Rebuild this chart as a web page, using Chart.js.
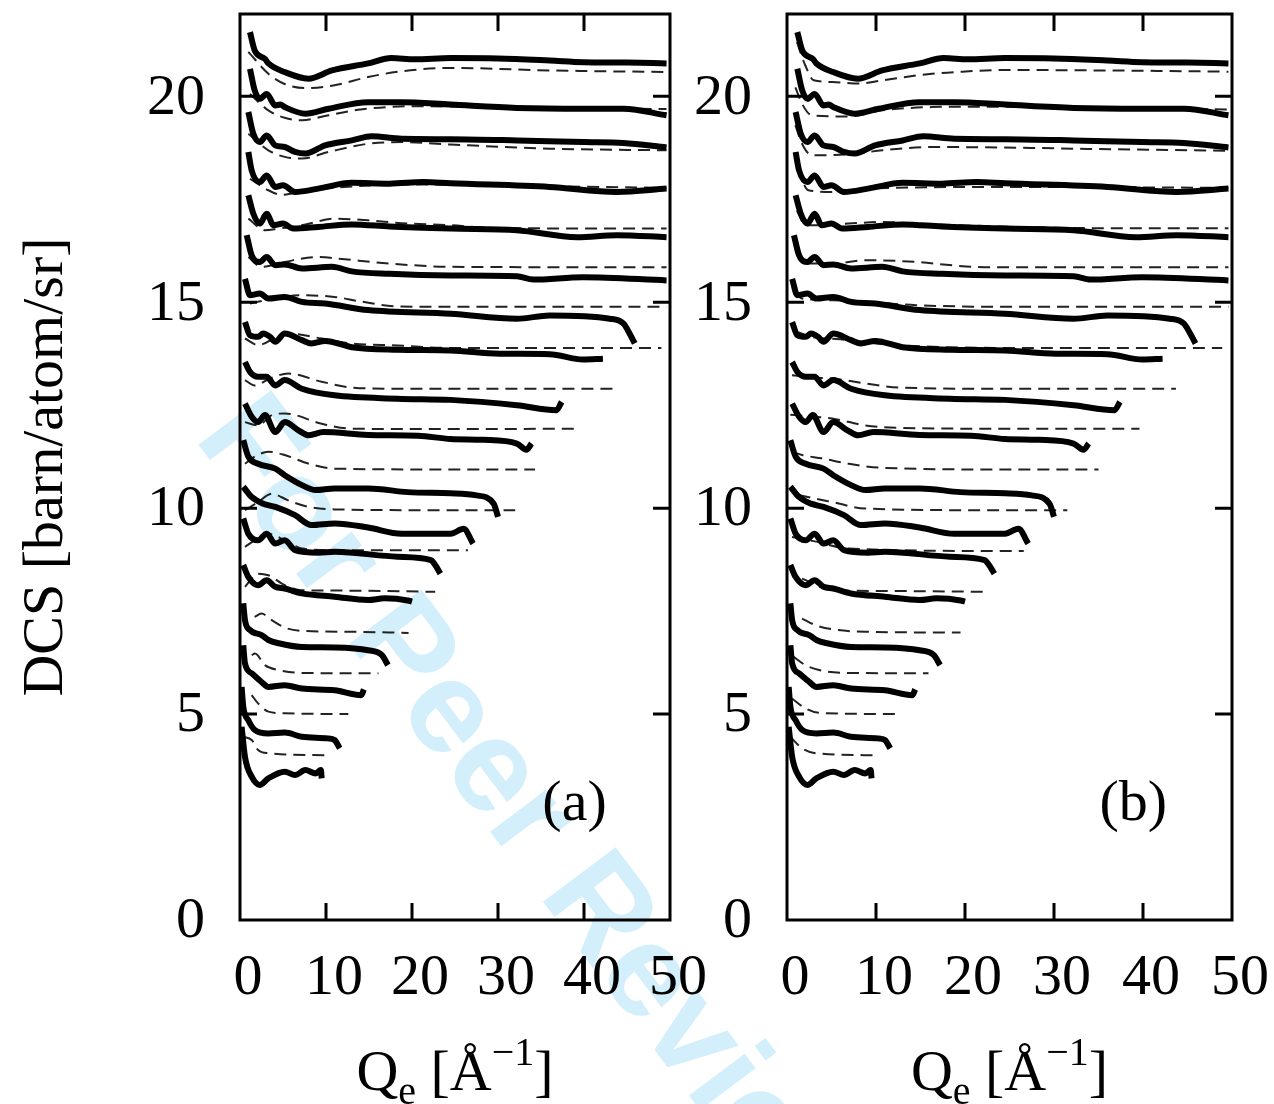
<!DOCTYPE html>
<html>
<head>
<meta charset="utf-8">
<script src="https://cdn.jsdelivr.net/npm/chart.js@4"></script>
<style>
html, body { margin: 0; padding: 0; background: #fff; overflow: hidden; }
#wm {
    position: absolute; left: 290px; top: 365px;
    font: bold 132px 'Liberation Sans', sans-serif; color: #d2effb;
    white-space: nowrap; transform-origin: 0 0; transform: rotate(53deg);
}
canvas { position: absolute; left: 0; top: 0; }
</style>
</head>
<body>
<div id="wm">For Peer Review</div>
<canvas id="chartA" width="1274" height="1104"></canvas>
<canvas id="chartB" width="1274" height="1104"></canvas>
<script>
xTicks = [0, 10, 20, 30, 40, 50];
yTicks = [0, 5, 10, 15, 20];

// measured DCS (thick curves), same in both panels
measured = [
    [[1.16,21.56],[1.74,21.1],[2.9,20.91],[3.3,20.8],[5.2,20.59],[7.95,20.43],[10.7,20.63],[14.9,20.8],[17.6,20.93],[20.3,20.9],[24.5,20.93],[30,20.92],[36,20.87],[39.9,20.83],[45,20.82],[49.6,20.8]],
    [[1.16,20.67],[1.7,20.15],[2.3,19.94],[3.1,20.06],[4.1,19.78],[4.7,19.8],[5.2,19.74],[7.6,19.58],[10.3,19.7],[14.9,19.86],[18.8,19.86],[24.5,19.8],[32.2,19.72],[39.9,19.7],[44.6,19.7],[49.6,19.54]],
    [[0.97,19.62],[1.55,19.09],[2.3,18.89],[3.1,19.05],[4.1,18.81],[5.2,18.77],[6.4,18.65],[7.6,18.61],[9.9,18.81],[13,18.93],[15.3,19.03],[18.8,18.97],[24.5,18.96],[32.2,18.93],[39.9,18.89],[44.6,18.87],[49.6,18.76]],
    [[0.97,18.65],[1.36,18.2],[2.3,17.92],[3.1,18.08],[4.1,17.8],[5.0,17.84],[6.4,17.68],[9.1,17.76],[13,17.9],[17.4,17.88],[21.3,17.92],[24.5,17.89],[36,17.8],[43.8,17.68],[49.6,17.76]],
    [[0.97,17.6],[1.55,17.15],[2.3,16.91],[3.1,17.15],[3.9,16.87],[5.0,16.91],[6.2,16.79],[9.1,16.83],[13,16.89],[17.4,16.84],[24.5,16.79],[32.2,16.75],[39.2,16.58],[43.8,16.63],[49.6,16.58]],
    [[0.78,16.63],[1.36,16.14],[2.3,15.98],[3.1,16.1],[4.1,15.9],[5.2,15.92],[7.2,15.82],[10.7,15.86],[13,15.75],[17.4,15.69],[24.5,15.65],[32.2,15.63],[34.1,15.55],[39.9,15.61],[49.6,15.53]],
    [[0.58,15.57],[1.16,15.17],[2.3,15.21],[3.3,15.09],[5.2,15.13],[7.2,15.01],[9.9,14.97],[14.9,14.81],[24.5,14.72],[32.2,14.6],[36,14.68],[43,14.6],[44.6,14.48],[45.3,14.24],[45.9,14.0],[46.1,null],[46.4,13.55]],
    [[0.58,14.52],[1.16,14.2],[2.1,14.16],[2.7,14.24],[3.5,14.16],[4.1,14.04],[5.2,14.24],[7.2,14.08],[8.3,14.0],[9.9,14.06],[13,13.91],[18.3,13.85],[24.5,13.83],[30.2,13.75],[36,13.74],[39.9,13.61],[42.2,13.63]],
    [[0.58,13.55],[1.16,13.31],[2.1,13.19],[3.1,13.19],[4.1,12.98],[5.2,13.11],[7.2,12.9],[11,12.74],[18.3,12.66],[24.5,12.63],[32.2,12.5],[36.8,12.38],[37.4,12.58]],
    [[0.58,12.54],[1.36,12.22],[2.1,12.09],[2.9,12.26],[4.1,11.85],[5.2,12.09],[6.8,11.89],[8.0,11.77],[9.7,11.85],[14.9,11.78],[20.7,11.76],[24.5,11.68],[28.3,11.66],[32.2,11.57],[33.3,11.42],[33.9,11.57]],
    [[0.38,11.65],[0.97,11.25],[2.1,11.08],[4.1,10.96],[5.2,10.8],[7.2,10.56],[8.8,10.44],[11,10.48],[14.9,10.48],[19.5,10.39],[24.5,10.36],[27.5,10.31],[29.5,10.11],[30.0,9.79]],
    [[0.38,10.52],[1.36,10.27],[2.7,10.11],[4.1,10.03],[6.4,9.83],[8.3,9.59],[11,9.63],[14.9,9.53],[18.8,9.38],[24.5,9.38],[26,9.5],[27.1,9.14]],
    [[0.38,9.75],[0.97,9.38],[2.1,9.22],[3.1,9.38],[4.1,9.14],[5.2,9.22],[6.4,8.98],[9.1,8.92],[11,8.94],[18.3,8.82],[22.2,8.74],[22.7,8.62],[23.3,8.41],[23.35,null],[23.4,8.19]],
    [[0.38,8.62],[0.97,8.33],[2.1,8.13],[3.1,8.25],[4.1,8.09],[5.2,8.05],[7.2,7.93],[11,7.85],[14.9,7.77],[16.8,7.81],[19.5,7.76],[20,7.73]],
    [[0.38,7.69],[0.58,7.28],[1.16,7.04],[2.5,6.92],[3.3,6.8],[4.5,6.72],[7.2,6.63],[11,6.62],[14.9,6.55],[16.5,6.43],[17.2,6.19]],
    [[0.38,6.67],[0.58,6.23],[1.36,5.99],[2.5,5.78],[3.3,5.66],[5.2,5.7],[7.2,5.62],[11,5.58],[14.1,5.46],[14.4,5.6]],
    [[0.19,5.66],[0.38,5.18],[0.97,4.85],[1.74,4.61],[3.3,4.53],[5.2,4.55],[7.2,4.45],[10.2,4.41],[11,4.37],[11.6,4.17]],
    [[0.19,4.69],[0.58,3.96],[1.36,3.48],[2.3,3.28],[3.3,3.44],[5.2,3.6],[6.4,3.52],[7.6,3.64],[8.8,3.56],[9.4,3.64],[9.5,3.44]],
];

// calculated curves, panel (a)
calcA = [
    [[0.97,21.08],[3.3,20.55],[5.2,20.3],[7.6,20.2],[11,20.27],[14.9,20.47],[18.8,20.61],[24.5,20.69],[36,20.63],[49.6,20.59]],
    [[1.16,20.06],[3.3,19.66],[5.2,19.48],[7.2,19.42],[10.3,19.54],[14,19.68],[20,19.76],[30,19.74],[40,19.71],[49.6,19.69]],
    [[0.97,19.09],[3.3,18.69],[5.2,18.53],[7.2,18.49],[10.3,18.65],[14.9,18.85],[18.8,18.89],[24.5,18.83],[36,18.73],[49.6,18.69]],
    [[1.16,18.0],[3.3,17.72],[4.8,17.61],[8,17.72],[20,17.86],[35,17.82],[49.6,17.78]],
    [[0.97,17.03],[2.9,16.75],[4.5,16.79],[7.2,16.87],[11,17.03],[14.9,16.99],[18.8,16.92],[24.5,16.87],[30,16.8],[49.6,16.79]],
    [[0.97,16.1],[2.5,15.86],[5.2,15.98],[9.1,16.1],[11.4,16.06],[17.4,15.94],[24.5,15.86],[49.6,15.85]],
    [[1.16,14.97],[3,15.05],[7.2,15.17],[11,15.13],[14,15.02],[18.3,14.9],[24.5,14.89],[49.6,14.89]],
    [[0.58,14.12],[2.1,13.96],[4.3,14.16],[5.6,14.24],[9.5,14.12],[13,14.0],[18.3,13.95],[24.5,13.89],[49,13.89]],
    [[0.58,13.11],[1.7,12.98],[3.5,13.15],[5.6,13.27],[9.5,13.07],[13,12.93],[18.3,12.9],[43.4,12.9]],
    [[0.58,12.09],[2.1,12.01],[3.7,12.26],[5.2,12.3],[9.5,12.05],[13,11.93],[24.5,11.92],[39.5,11.93]],
    [[0.58,11.08],[1.7,11.25],[3.3,11.37],[5.2,11.29],[8,11.08],[11,10.96],[24.5,10.94],[34.3,10.94]],
    [[0.58,9.95],[2.1,10.15],[3.7,10.35],[5.6,10.19],[8,10.03],[11,9.97],[24.5,9.95],[32,9.95]],
    [[0.58,9.06],[1.7,9.22],[3.3,9.38],[5.2,9.22],[7.2,9.02],[11,8.98],[26.5,8.98]],
    [[0.58,8.09],[2.1,8.41],[3.3,8.37],[5.2,8.13],[7.2,8.01],[11,8.0],[22.7,7.97]],
    [[1.7,7.36],[2.5,7.44],[3.7,7.28],[5.2,7.1],[7.2,7.02],[13,7.0],[19.6,6.97]],
    [[1.36,6.43],[1.74,6.47],[2.9,6.19],[4.5,6.07],[7.2,6.0],[16.1,5.99]],
    [[1.36,5.46],[2.1,5.26],[3.3,5.06],[5.2,5.02],[12.6,5.0]],
    [[0.38,4.45],[1.36,4.37],[2.1,4.13],[3.3,4.05],[9.9,4.0]],
];

// calculated curves, panel (b)
calcB = [
    [[1.12,21.32],[2.06,20.75],[3.0,20.39],[5.06,20.35],[8.05,20.31],[10.7,20.39],[16.3,20.55],[19.7,20.6],[24.2,20.64],[35,20.63],[49.6,20.6]],
    [[0.94,20.22],[1.69,19.82],[2.8,19.54],[6.9,19.51],[10.7,19.66],[16.3,19.74],[21.9,19.75],[35,19.72],[49.6,19.68]],
    [[0.94,19.3],[1.69,18.85],[2.8,18.57],[6.9,18.59],[10.7,18.69],[16.3,18.77],[23.8,18.76],[35,18.72],[49.6,18.68]],
    [[1.12,18.28],[2.4,17.72],[5.06,17.68],[8.8,17.76],[24.2,17.8],[49.6,17.78]],
    [[1.12,17.23],[2.06,16.87],[3.2,16.87],[6.9,16.91],[10.7,16.95],[14.5,16.91],[24,16.84],[35,16.8],[49.6,16.8]],
    [[0.94,16.26],[2.06,15.94],[5.06,15.94],[8.8,16.02],[14.5,15.98],[20.1,15.87],[24.2,15.85],[49.6,15.85]],
    [[0.94,15.29],[1.69,15.09],[5.06,15.05],[8.8,15.01],[14.5,14.93],[24.2,14.89],[49.6,14.89]],
    [[0.94,14.3],[3,14.15],[6,14.1],[10,14.0],[15,13.93],[25,13.89],[48.9,13.89]],
    [[0.56,13.23],[3.2,13.17],[5.06,13.15],[8.8,13.03],[12.6,12.93],[24.2,12.9],[43.7,12.9]],
    [[0.37,12.27],[3.2,12.22],[5.06,12.18],[8.8,12.01],[12.6,11.95],[24.2,11.93],[39.6,11.93]],
    [[0.56,11.37],[1.69,11.29],[3.9,11.21],[6.9,11.08],[10.7,10.98],[24.2,10.94],[35,10.94]],
    [[1.3,10.32],[3.2,10.23],[5.06,10.15],[8.8,9.99],[24.2,9.95],[31.5,9.95]],
    [[0.56,9.3],[3,9.2],[6.9,9.02],[24.5,8.96],[26.6,8.96]],
    [[1.69,8.29],[5.06,8.01],[10.7,7.99],[22.7,7.97]],
    [[1.69,7.32],[3.2,7.16],[5.06,7.06],[8.8,7.0],[19.5,6.98]],
    [[0.75,6.39],[2.06,6.19],[3.6,6.07],[6.9,6.0],[15.9,5.99]],
    [[0.56,5.38],[2.06,5.14],[3.6,5.03],[12.9,5.0]],
    [[0.37,4.45],[1.69,4.17],[3.2,4.05],[9.9,4.0]],
];

Chart.defaults.font.family = "'Liberation Serif', serif";
Chart.defaults.color = '#000';

serif = "'Liberation Serif', serif";

// box, inward (mirrored) ticks, axis titles and panel tag
frame = {
    id: 'frame',
    afterDatasetsDraw: function (chart, args, opts) {
        var ctx = chart.ctx, a = chart.chartArea;
        var x = chart.scales.x, y = chart.scales.y;
        ctx.save();
        ctx.strokeStyle = '#000';
        ctx.lineWidth = 3;
        ctx.strokeRect(a.left, a.top, a.right - a.left, a.bottom - a.top);
        ctx.beginPath();
        yTicks.forEach(function (v) {
            if (v === 0) return;
            var p = y.getPixelForValue(v);
            ctx.moveTo(a.left, p); ctx.lineTo(a.left + 17, p);
            ctx.moveTo(a.right, p); ctx.lineTo(a.right - 17, p);
        });
        xTicks.forEach(function (v) {
            if (v === 0 || v === 50) return;
            var p = x.getPixelForValue(v);
            ctx.moveTo(p, a.bottom); ctx.lineTo(p, a.bottom - 17);
            ctx.moveTo(p, a.top); ctx.lineTo(p, a.top + 17);
        });
        ctx.stroke();

        ctx.fillStyle = '#000';
        // panel tag
        ctx.font = '58px ' + serif;
        ctx.textAlign = 'center';
        ctx.textBaseline = 'middle';
        ctx.fillText(opts.tag, x.getPixelForValue(38.9), y.getPixelForValue(2.8));

        // x title: Q_e [Å^-1]
        var big = '58px ' + serif, small = '40px ' + serif;
        var parts = [['Q', big, 0], ['e', small, 14], [' [Å', big, 0], ['\u22121', small, -25], [']', big, 0]];
        var w = 0;
        parts.forEach(function (p) { ctx.font = p[1]; w += ctx.measureText(p[0]).width; });
        var cx = (a.left + a.right) / 2 - w / 2, base = 1090;
        ctx.textAlign = 'left';
        ctx.textBaseline = 'alphabetic';
        parts.forEach(function (p) {
            ctx.font = p[1];
            ctx.fillText(p[0], cx, base + p[2]);
            cx += ctx.measureText(p[0]).width;
        });

        // y title
        if (opts.yTitle) {
            ctx.translate(62, (a.top + a.bottom) / 2);
            ctx.rotate(-Math.PI / 2);
            ctx.font = big;
            ctx.textAlign = 'center';
            ctx.fillText('DCS [barn/atom/sr]', 0, 0);
        }
        ctx.restore();
    }
};

function noPad(s) {
    s.paddingTop = 0; s.paddingBottom = 0; s.paddingLeft = 0; s.paddingRight = 0;
}

function makeChart(id, calc, tag, yTitle, leftW, rightPad) {
    var datasets = [];
    measured.forEach(function (c) {
        datasets.push({ data: c, borderColor: '#000', borderWidth: 6, pointRadius: 0,
            order: 0, cubicInterpolationMode: 'monotone', spanGaps: false });
    });
    calc.forEach(function (c) {
        datasets.push({ data: c, borderColor: '#222', borderWidth: 2, borderDash: [12, 7],
            pointRadius: 0, order: 1, cubicInterpolationMode: 'monotone' });
    });
    return new Chart(document.getElementById(id), {
        type: 'line',
        data: { datasets: datasets },
        options: {
            responsive: false,
            animation: false,
            events: [],
            layout: { padding: { top: 14, right: rightPad, left: 0, bottom: 0 } },
            plugins: {
                legend: { display: false },
                tooltip: { enabled: false },
                frame: { tag: tag, yTitle: yTitle }
            },
            scales: {
                x: {
                    type: 'linear', min: 0, max: 50,
                    afterBuildTicks: function (s) { s.ticks = xTicks.map(function (v) { return { value: v }; }); },
                    afterFit: function (s) { s.height = 184; noPad(s); },
                    grid: { display: false, drawTicks: false },
                    border: { display: false },
                    ticks: { font: { size: 58 }, padding: 24, labelOffset: 8, maxRotation: 0, autoSkip: false }
                },
                y: {
                    type: 'linear', min: 0, max: 22,
                    afterBuildTicks: function (s) { s.ticks = yTicks.map(function (v) { return { value: v }; }); },
                    afterFit: function (s) { s.width = leftW; noPad(s); },
                    grid: { display: false, drawTicks: false },
                    border: { display: false },
                    ticks: { font: { size: 58 }, padding: 35, labelOffset: 2 }
                }
            }
        },
        plugins: [frame]
    });
}

makeChart('chartA', calcA, '(a)', true, 240, 604);
makeChart('chartB', calcB, '(b)', false, 787, 42);
</script>
</body>
</html>
